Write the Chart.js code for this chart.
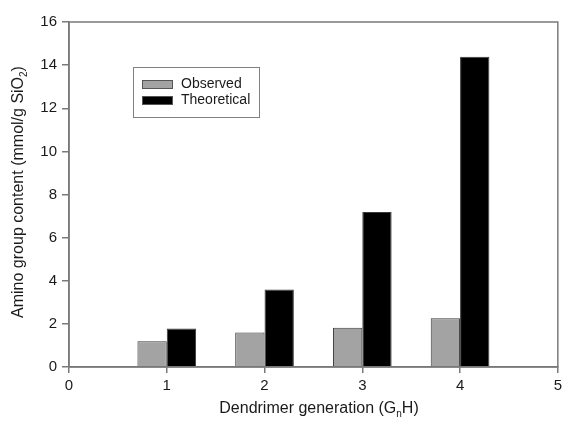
<!DOCTYPE html>
<html>
<head>
<meta charset="utf-8">
<script src="https://cdn.jsdelivr.net/npm/chart.js@4.4.1/dist/chart.umd.min.js"></script>
<style>
  html, body { margin: 0; padding: 0; background: #ffffff; }
  #wrap { width: 566px; height: 422px; }
</style>
</head>
<body>
<div id="wrap"><canvas id="c" width="566" height="422"></canvas></div>
<script>
// ---- data ----
const generations = [1, 2, 3, 4];
const observed = [1.2, 1.6, 1.82, 2.26];
const theoretical = [1.79, 3.6, 7.19, 14.39];
const seriesNames = ['Observed', 'Theoretical'];
const xTitleParts = [['Dendrimer generation (G', ''], ['n', 'sub'], ['H)', '']];
const yTitleParts = [['Amino group content (mmol/g SiO', ''], ['2', 'sub'], [')', '']];

const FONT = '"Liberation Sans", Arial, sans-serif';
const AXIS_COLOR = '#7a7a7a';
const TEXT_COLOR = '#1a1a1a';

function drawParts(ctx, parts, size) {
  let total = 0;
  const widths = parts.map(p => {
    ctx.font = (p[1] === 'sub' ? Math.round(size * 0.65) : size) + 'px ' + FONT;
    const w = ctx.measureText(p[0]).width;
    total += w;
    return w;
  });
  let x = -total / 2;
  parts.forEach((p, i) => {
    const sub = p[1] === 'sub';
    ctx.font = (sub ? Math.round(size * 0.65) : size) + 'px ' + FONT;
    ctx.fillText(p[0], x, sub ? size * 0.3 : 0);
    x += widths[i];
  });
}

const framePlugin = {
  id: 'frame',
  afterDraw(chart) {
    const { ctx, chartArea: a } = chart;
    ctx.save();
    ctx.strokeStyle = AXIS_COLOR;
    ctx.lineWidth = 1.5;
    ctx.strokeRect(a.left, a.top, a.right - a.left, a.bottom - a.top);

    // axis titles
    ctx.fillStyle = TEXT_COLOR;
    ctx.textBaseline = 'middle';
    ctx.textAlign = 'left';
    ctx.save();
    ctx.translate(319, 409);
    drawParts(ctx, xTitleParts, 16);
    ctx.restore();
    ctx.save();
    ctx.translate(19, 192);
    ctx.rotate(-Math.PI / 2);
    drawParts(ctx, yTitleParts, 16);
    ctx.restore();

    // legend box
    const bx = 133, by = 67, bw = 126, bh = 50;
    ctx.fillStyle = '#ffffff';
    ctx.fillRect(bx, by, bw, bh);
    ctx.strokeStyle = '#808080';
    ctx.lineWidth = 1;
    ctx.strokeRect(bx + 0.5, by + 0.5, bw, bh);
    chart.data.datasets.forEach((ds, i) => {
      const sy = 80 + i * 16;
      ctx.fillStyle = ds.backgroundColor;
      ctx.fillRect(142, sy, 31, 9);
      ctx.strokeStyle = '#555';
      ctx.strokeRect(142.5, sy + 0.5, 30, 8);
      ctx.fillStyle = TEXT_COLOR;
      ctx.font = '14px ' + FONT;
      ctx.textAlign = 'left';
      ctx.textBaseline = 'middle';
      ctx.fillText(ds.label, 181, sy + 4);
    });
    ctx.restore();
  }
};

new Chart(document.getElementById('c'), {
  type: 'bar',
  data: {
    datasets: [
      {
        label: seriesNames[0],
        data: generations.map((g, i) => ({ x: g, y: observed[i] })),
        backgroundColor: '#a3a3a3',
        borderColor: '#3a3a3a',
        borderWidth: 1,
        borderSkipped: 'bottom',
        categoryPercentage: 0.6,
        barPercentage: 1.0
      },
      {
        label: seriesNames[1],
        data: generations.map((g, i) => ({ x: g, y: theoretical[i] })),
        backgroundColor: '#000000',
        borderColor: '#3a3a3a',
        borderWidth: 1,
        borderSkipped: 'bottom',
        categoryPercentage: 0.6,
        barPercentage: 1.0
      }
    ]
  },
  options: {
    responsive: false,
    animation: false,
    events: [],
    layout: { padding: { left: 0, right: 4, top: 22, bottom: 0 } },
    plugins: { legend: { display: false }, tooltip: { enabled: false } },
    scales: {
      x: {
        type: 'linear',
        min: 0, max: 5,
        offset: false,
        grid: { display: true, offset: false, drawOnChartArea: false, drawTicks: true, tickLength: 6, color: AXIS_COLOR, lineWidth: 1.5 },
        border: { display: true, color: AXIS_COLOR, width: 1.5 },
        ticks: { stepSize: 1, padding: 4, color: TEXT_COLOR, font: { family: FONT, size: 15 } },
        afterFit(s) { s.height = 55; }
      },
      y: {
        min: 0, max: 16,
        grid: { display: true, offset: false, drawOnChartArea: false, drawTicks: true, tickLength: 7, color: AXIS_COLOR, lineWidth: 1.5 },
        border: { display: true, color: AXIS_COLOR, width: 1.5 },
        ticks: { stepSize: 2, padding: 5, color: TEXT_COLOR, font: { family: FONT, size: 15 } },
        afterFit(s) { s.width = 69; }
      }
    }
  },
  plugins: [framePlugin]
});
</script>
</body>
</html>
